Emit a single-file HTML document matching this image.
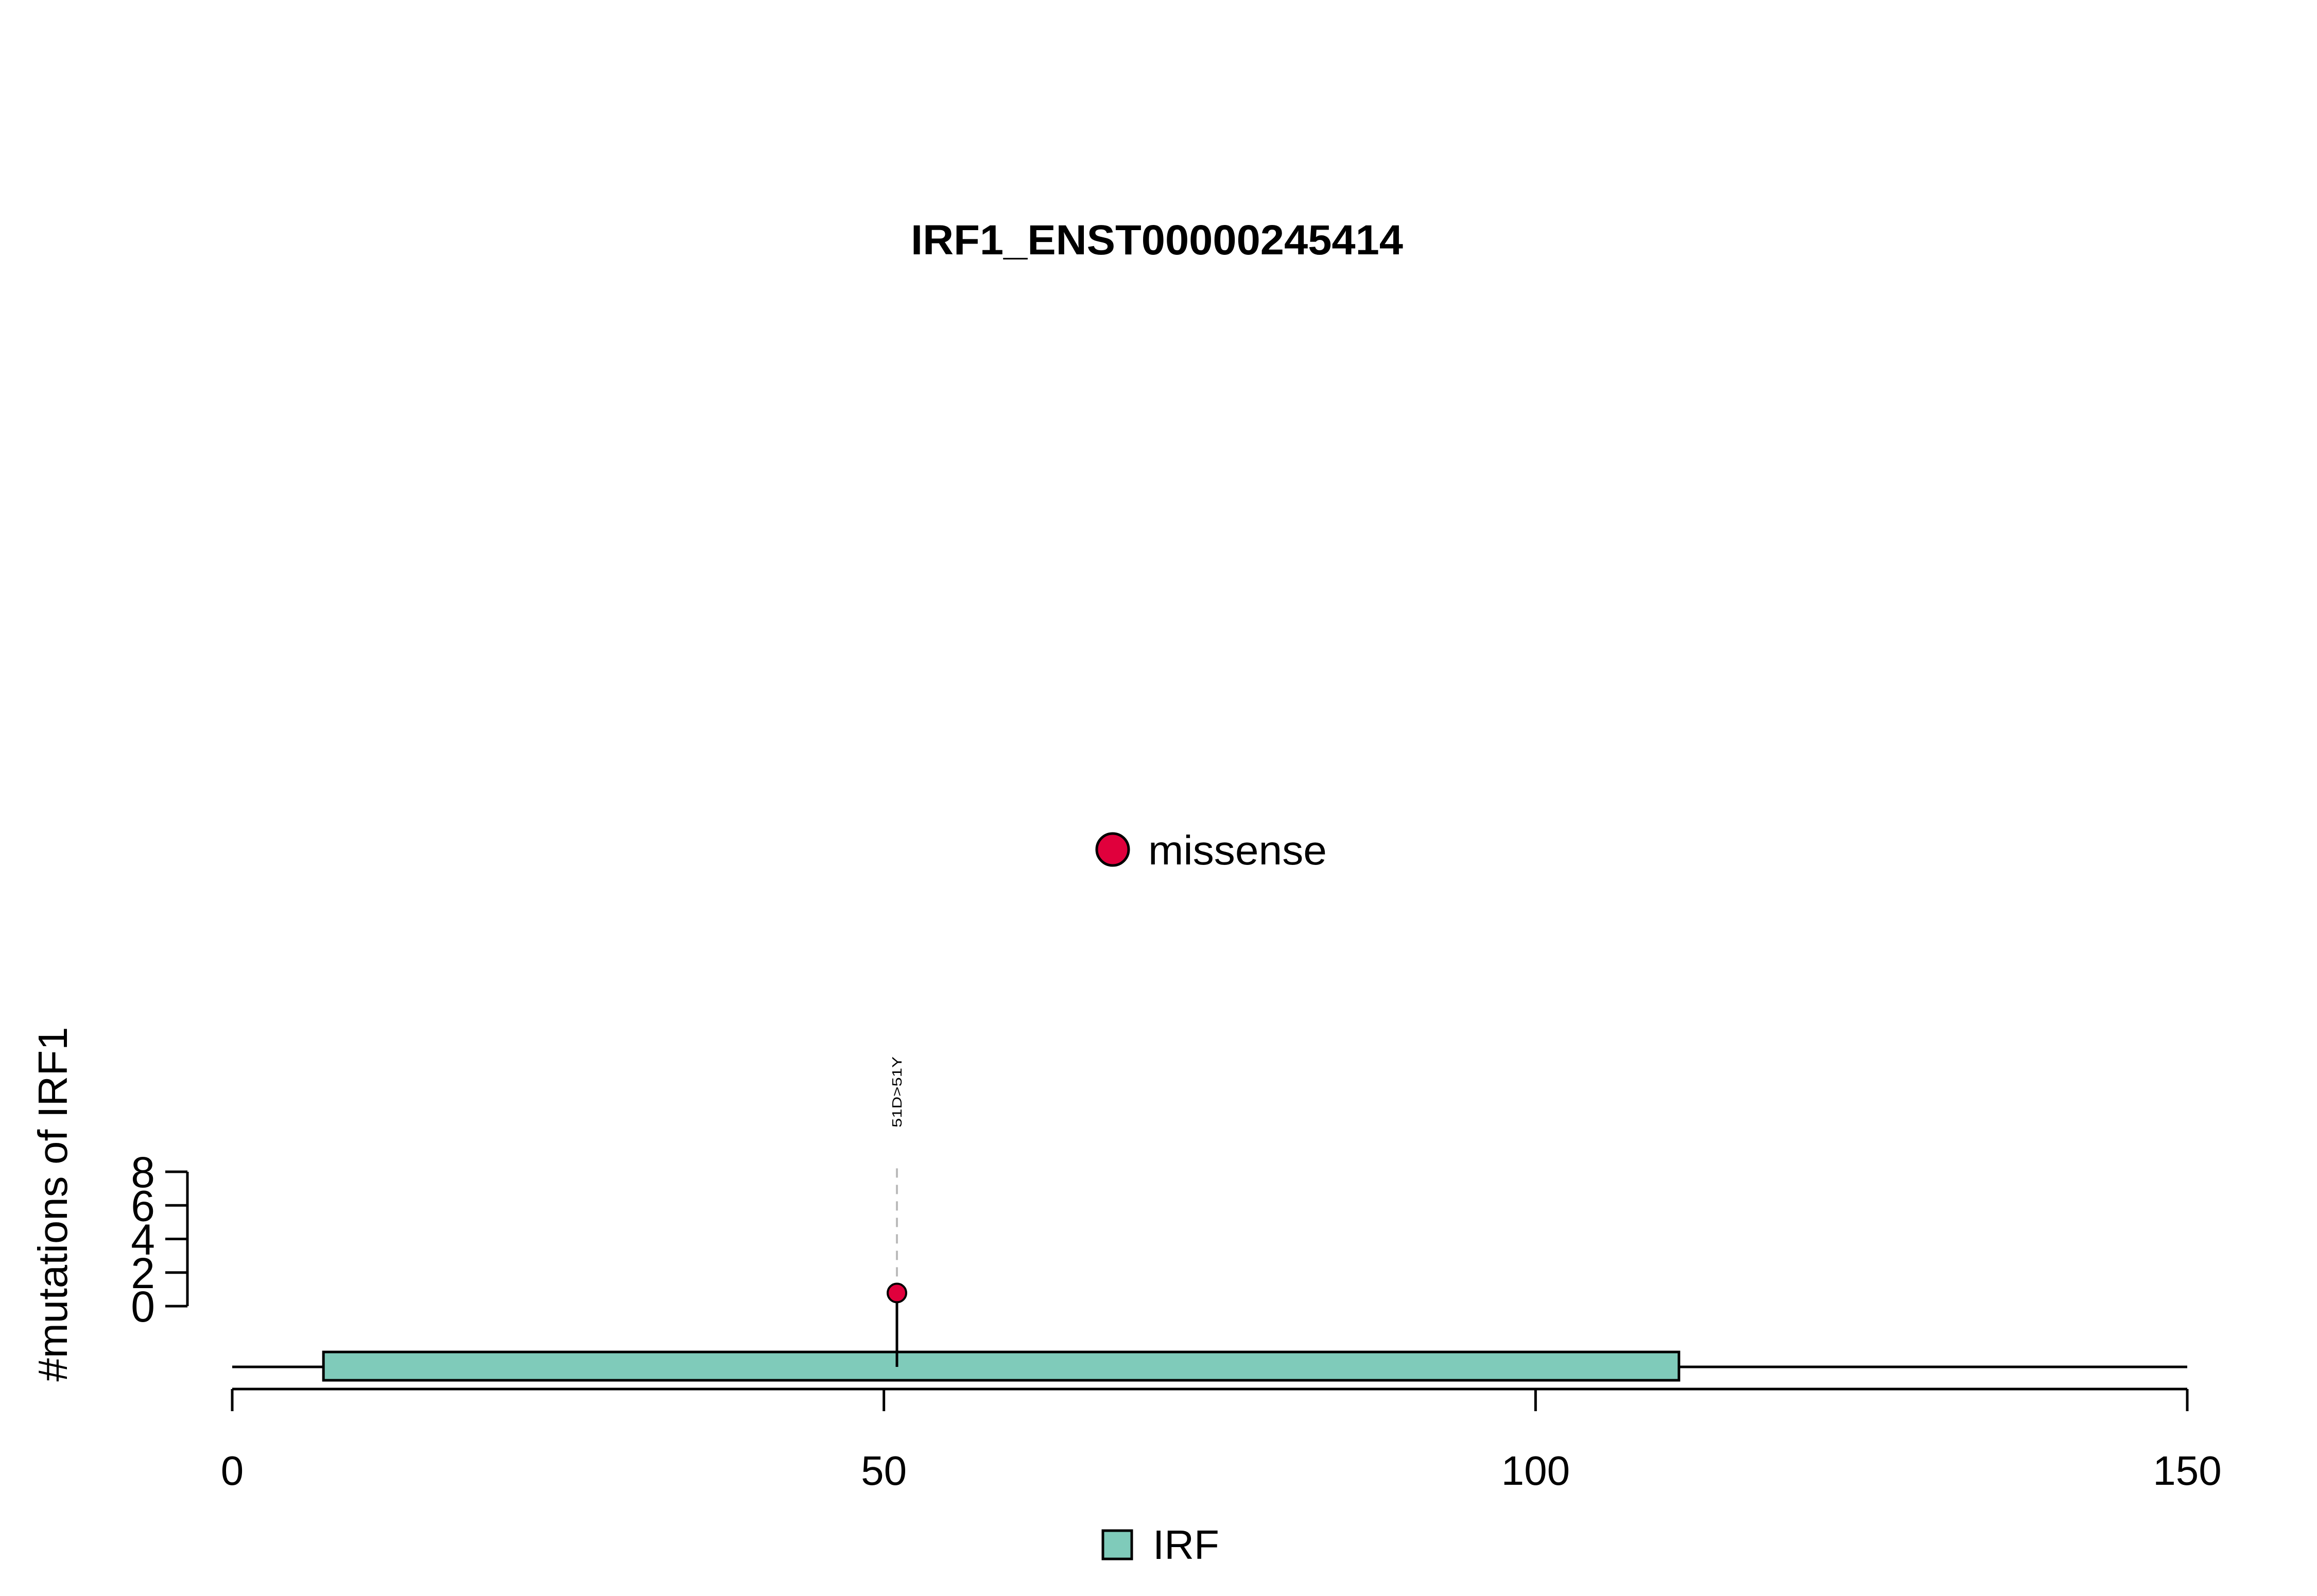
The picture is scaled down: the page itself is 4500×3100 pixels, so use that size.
<!DOCTYPE html>
<html><head><meta charset="utf-8"><style>
html,body{margin:0;padding:0;background:#fff}
svg{display:block}
text{font-family:"Liberation Sans",Arial,sans-serif}
</style></head><body>
<svg id="chart" width="4500" height="3100" viewBox="0 0 4500 3100" xmlns="http://www.w3.org/2000/svg">
<text x="2247" y="494" font-size="82" font-weight="bold" text-anchor="middle" textLength="956" lengthAdjust="spacingAndGlyphs">IRF1_ENST00000245414</text>
<g>
<circle cx="2161" cy="1650" r="31" fill="#e0003c" stroke="#000" stroke-width="5"/>
<text x="2230" y="1679" font-size="80" textLength="347" lengthAdjust="spacingAndGlyphs">missense</text>
</g>
<g id="plot"></g>
<text transform="translate(130,2339) rotate(-90)" font-size="80" text-anchor="middle" textLength="689" lengthAdjust="spacingAndGlyphs">#mutations of IRF1</text>
<g>
<rect x="2142" y="2973" width="56" height="55" fill="#7fcbba" stroke="#000" stroke-width="5"/>
<text x="2239" y="3028" font-size="80">IRF</text>
</g>
</svg>
<script>
const xTicks = [0, 50, 100, 150];
const yTicks = [0, 2, 4, 6, 8];
const domainStarts = [7];
const domainEnds = [111];
const domainNames = ["IRF"];
const mutPositions = [51];
const mutCounts = [1];
const mutLabels = ["51D>51Y"];

const NS = "http://www.w3.org/2000/svg";
const g = document.getElementById("plot");
const xs = v => 451 + v * (4248 - 451) / 150;
const ys = v => 2537 - v * (2537 - 2276) / 8;
function mk(tag, attrs, parent) {
  const e = document.createElementNS(NS, tag);
  for (const k in attrs) e.setAttribute(k, attrs[k]);
  (parent || g).appendChild(e);
  return e;
}
let el = mk("line", {x1: xs(0), x2: xs(150), y1: 2698, y2: 2698, stroke: "#000", "stroke-width": 5});


xTicks.forEach(t => {
  let tk = mk("line", {x1: xs(t), x2: xs(t), y1: 2698, y2: 2741, stroke: "#000", "stroke-width": 5});
  
  
  let lb = mk("text", {x: xs(t), y: 2884, "font-size": 80, "text-anchor": "middle"});
  lb.textContent = t;
  
  
});
el = mk("line", {x1: 364, x2: 364, y1: ys(0), y2: ys(8), stroke: "#000", "stroke-width": 5});


yTicks.forEach(t => {
  let tk = mk("line", {x1: 321, x2: 364, y1: ys(t), y2: ys(t), stroke: "#000", "stroke-width": 5});
  
  
  let lb = mk("text", {x: 301, y: ys(t) + 30, "font-size": 84, "text-anchor": "end"});
  lb.textContent = t;
  
  
});
el = mk("line", {x1: xs(0), x2: xs(150), y1: 2655, y2: 2655, stroke: "#000", "stroke-width": 5});


domainStarts.forEach((s, i) => {
  let r = mk("rect", {x: xs(s), y: 2626, width: xs(domainEnds[i]) - xs(s), height: 55, fill: "#7fcbba", stroke: "#000", "stroke-width": 5});
  
  
});
mutPositions.forEach((p, i) => {
  const x = xs(p), y = ys(mutCounts[i]) + 7;
  let d = mk("line", {x1: x, x2: x, y1: y, y2: 2267, stroke: "#bbb", "stroke-width": 4, "stroke-dasharray": "18,14"});
  
  
  let s = mk("line", {x1: x, x2: x, y1: 2655, y2: y, stroke: "#000", "stroke-width": 5});
  
  
  let c = mk("circle", {cx: x, cy: y, r: 18, fill: "#e0003c", stroke: "#000", "stroke-width": 4});
  
  
  let t = mk("text", {transform: "translate(" + (x + 9) + ",2190) rotate(-90)", "font-size": 26, textLength: 138, lengthAdjust: "spacingAndGlyphs"});
  t.textContent = mutLabels[i];
  
  
});
</script>
</body></html>
